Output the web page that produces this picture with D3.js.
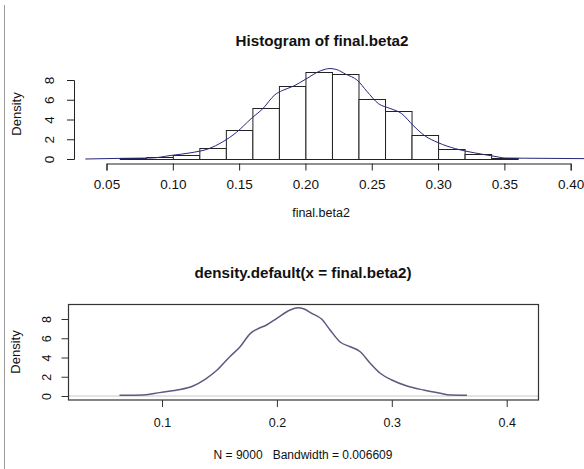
<!DOCTYPE html>
<html><head><meta charset="utf-8">
<script src="https://cdn.jsdelivr.net/npm/d3@7"></script>
<style>body{margin:0;background:#fff}svg{display:block}text{font-family:"Liberation Sans",Arial,sans-serif;fill:#111;white-space:pre}</style>
</head><body>
<svg id="c" width="584" height="469"></svg>
<script>
// ---- data ----
const binEdges = [0.06,0.08,0.10,0.12,0.14,0.16,0.18,0.20,0.22,0.24,0.26,0.28,0.30,0.32,0.34,0.36];
const binDensity = [0.08,0.2,0.45,1.1,2.9,5.13,7.39,8.81,8.64,6.04,4.83,2.4,1.04,0.54,0.13];
const densX = [0.063,0.084,0.098,0.113,0.127,0.1375,0.148,0.159,0.168,0.177,0.1825,0.191,0.200,0.2115,0.2185,0.2231,0.2304,0.2391,0.2463,0.255,0.2638,0.2725,0.2812,0.2899,0.300,0.3132,0.3276,0.3422,0.3509,0.3654];
const densY = [0.07,0.1,0.35,0.62,1.04,1.73,2.7,4.08,5.12,6.51,6.93,7.38,8.07,8.94,9.16,9.07,8.59,7.97,6.86,5.61,5.12,4.6,3.4,2.36,1.66,1.04,0.62,0.28,0.1,0.08];
const tailX = [0.034, 0.45];          // density line extends to zero in the histogram panel
const histXTicks = [0.05,0.10,0.15,0.20,0.25,0.30,0.35,0.40];
const densXTicks = [0.1,0.2,0.3,0.4];
const yTicks = [0,2,4,6,8];
const histTitle = "Histogram of final.beta2";
const histXLabel = "final.beta2";
const densTitle = "density.default(x = final.beta2)";
const densSub = "N = 9000   Bandwidth = 0.006609";
const yLabel = "Density";

const svg = d3.select("#c");
// left border artifact
svg.append("line").attr("x1",4.5).attr("x2",4.5).attr("y1",5).attr("y2",469).attr("stroke","#9a9a9a").attr("stroke-width",1);

// ---------- top: histogram ----------
const hx = d3.scaleLinear().domain([0.05,0.40]).range([106.5,570.7]);
const hy = d3.scaleLinear().domain([0,8]).range([159,80]);
const g1 = svg.append("g");
const bins = binDensity.map((d,i)=>({x0:binEdges[i],x1:binEdges[i+1],d}));
g1.selectAll("rect.bar").data(bins).enter().append("rect")
  .attr("x",b=>hx(b.x0)+0.5).attr("width",b=>hx(b.x1)-hx(b.x0))
  .attr("y",b=>Math.round(hy(b.d))+0.5).attr("height",b=>Math.round(hy(0))-Math.round(hy(b.d)))
  .attr("fill","#fff").attr("stroke","#222").attr("stroke-width",1);
const topPts = [[tailX[0],0]].concat(densX.map((x,i)=>[x,densY[i]])).concat([[tailX[1],0]]);
g1.append("path").datum(topPts)
  .attr("d",d3.line().x(p=>hx(p[0])).y(p=>hy(p[1])).curve(d3.curveMonotoneX))
  .attr("fill","none").attr("stroke","#26267a").attr("stroke-width",1);
// x axis
const ax1 = g1.append("g").attr("transform","translate(0,163.5)")
  .call(d3.axisBottom(hx).tickValues(histXTicks).tickFormat(d3.format(".2f")).tickSize(7).tickPadding(9));
// y axis
const ay1 = g1.append("g").attr("transform","translate(74,0)")
  .call(d3.axisLeft(hy).tickValues(yTicks).tickSize(7).tickPadding(0));
ay1.selectAll(".tick text").attr("transform","rotate(-90)").attr("x",0).attr("y",-25).attr("dy","0.35em").attr("text-anchor","middle");
[ax1,ay1].forEach(a=>{a.selectAll("path,line").attr("stroke","#222");a.selectAll("text").attr("font-size",13.5).attr("fill","#222").attr("font-family","Liberation Sans, Arial, sans-serif");});
ax1.selectAll(".tick text").attr("dy","0.71em");
svg.append("text").attr("x",322).attr("y",46).attr("text-anchor","middle").attr("font-weight","bold").attr("font-size",15.2).text(histTitle);
svg.append("text").attr("x",321).attr("y",217).attr("text-anchor","middle").attr("font-size",12.5).text(histXLabel);
svg.append("text").attr("transform","translate(21,114) rotate(-90)").attr("text-anchor","middle").attr("font-size",13).text(yLabel);

// ---------- bottom: density ----------
const dx = d3.scaleLinear().domain([0.1,0.4]).range([162,506.7]);
const dy = d3.scaleLinear().domain([0,8]).range([396,319]);
const g2 = svg.append("g");
g2.append("line").attr("x1",68.5).attr("x2",538.5).attr("y1",dy(0)).attr("y2",dy(0)).attr("stroke","#c8c8c8");
g2.append("path").datum(densX.map((x,i)=>[x,densY[i]]))
  .attr("d",d3.line().x(p=>dx(p[0])).y(p=>dy(p[1])).curve(d3.curveMonotoneX))
  .attr("fill","none").attr("stroke","#5a5a82").attr("stroke-width",1.5);
g2.append("rect").attr("x",68.5).attr("y",304.5).attr("width",470).attr("height",95.5).attr("fill","none").attr("stroke","#333").attr("stroke-width",1.2);
const ax2 = g2.append("g").attr("transform","translate(0,400)")
  .call(d3.axisBottom(dx).tickValues(densXTicks).tickFormat(d3.format(".1f")).tickSize(7).tickPadding(11));
ax2.select(".domain").remove();
const ay2 = g2.append("g").attr("transform","translate(68.5,0)")
  .call(d3.axisLeft(dy).tickValues(yTicks).tickSize(7).tickPadding(0));
ay2.select(".domain").remove();
ay2.selectAll(".tick text").attr("transform","rotate(-90)").attr("x",0).attr("y",-22).attr("dy","0.35em").attr("text-anchor","middle");
[ax2,ay2].forEach(a=>{a.selectAll("line").attr("stroke","#333");a.selectAll("text").attr("font-size",12.5).attr("fill","#222").attr("font-family","Liberation Sans, Arial, sans-serif");});
ax2.selectAll(".tick text").attr("dy","0.71em");
svg.append("text").attr("x",303).attr("y",278).attr("text-anchor","middle").attr("font-weight","bold").attr("font-size",15.2).text(densTitle);
svg.append("text").attr("x",303).attr("y",459).attr("text-anchor","middle").attr("font-size",12).attr("xml:space","preserve").text(densSub);
svg.append("text").attr("transform","translate(20,352) rotate(-90)").attr("text-anchor","middle").attr("font-size",13).text(yLabel);
</script>
</body></html>
